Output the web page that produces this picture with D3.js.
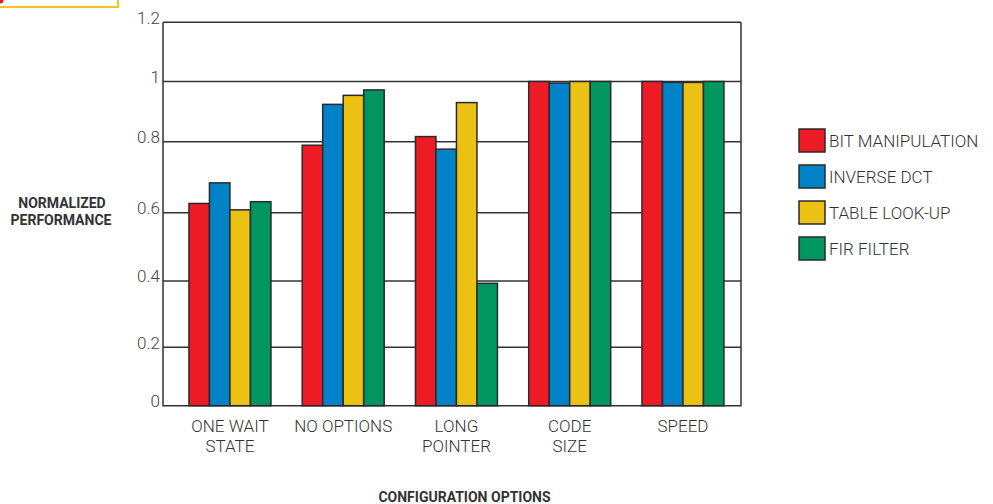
<!DOCTYPE html>
<html>
<head>
<meta charset="utf-8">
<script src="https://cdn.jsdelivr.net/npm/d3@7"></script>
<style>
  html, body { margin: 0; padding: 0; background: #fff; }
  svg { display: block; }
  text { font-family: "Roboto", "Liberation Sans", sans-serif; }
</style>
</head>
<body>
<svg id="chart" width="993" height="504"></svg>
<script>
// Configuration options along the x axis (each label may wrap onto two lines)
const categories = ["ONE WAIT STATE", "NO OPTIONS", "LONG POINTER", "CODE SIZE", "SPEED"];
const categoryLines = [["ONE WAIT", "STATE"], ["NO OPTIONS"], ["LONG", "POINTER"], ["CODE", "SIZE"], ["SPEED"]];

// Benchmarks, one bar per benchmark in each group
const seriesNames = ["BIT MANIPULATION", "INVERSE DCT", "TABLE LOOK-UP", "FIR FILTER"];
const seriesColors = ["#ED1C24", "#0082C8", "#EBC114", "#00965F"];

// Normalized performance, per series, in category order
const bitManipulation = [0.626, 0.79, 0.817, 1.0, 1.0];
const inverseDct      = [0.684, 0.924, 0.779, 0.995, 0.997];
const tableLookUp     = [0.608, 0.954, 0.93, 1.0, 0.997];
const firFilter       = [0.631, 0.972, 0.393, 1.0, 1.0];
const seriesValues = [bitManipulation, inverseDct, tableLookUp, firFilter];

// Y axis ticks
const yTicks = [0, 0.2, 0.4, 0.6, 0.8, 1, 1.2];
const yTickLabels = ["0", "0.2", "0.4", "0.6", "0.8", "1", "1.2"];

const svg = d3.select("#chart");
const ink = "#333";

const plot = { left: 163, right: 741 };

// The printed grid is not evenly spaced, so the scale is piecewise linear per tick
const y = d3.scaleLinear()
  .domain(yTicks)
  .range([405.7, 347.3, 281, 212.7, 141.7, 81.5, 22.3]);

const x0 = d3.scaleBand()
  .domain(categories)
  .range([173.1, 739.8])
  .paddingInner(0.276)
  .paddingOuter(0.14);

const x1 = d3.scaleBand()
  .domain(seriesNames)
  .range([0, x0.bandwidth()]);

// Corner tag
svg.append("rect")
  .attr("x", -10).attr("y", -10).attr("width", 128).attr("height", 17)
  .attr("fill", "none").attr("stroke", "#F7C31E").attr("stroke-width", 2);
svg.append("circle").attr("cx", 0).attr("cy", 0).attr("r", 3.5).attr("fill", "#ED1C24");

// Horizontal grid lines
svg.append("g")
  .selectAll("line")
  .data(yTicks.slice(1))
  .join("line")
  .attr("x1", plot.left).attr("x2", plot.right)
  .attr("y1", d => y(d)).attr("y2", d => y(d))
  .attr("stroke", ink).attr("stroke-width", 1.5);

// Frame: left, right and bottom sides
svg.append("path")
  .attr("d", `M${plot.left},${y(1.2)}V${y(0)}H${plot.right}V${y(1.2)}`)
  .attr("fill", "none").attr("stroke", ink).attr("stroke-width", 1.5);

// Bars
const groups = svg.append("g")
  .selectAll("g")
  .data(categories)
  .join("g")
  .attr("transform", c => `translate(${x0(c)},0)`);

groups.selectAll("rect")
  .data((c, ci) => seriesNames.map((s, si) => ({ s, si, v: seriesValues[si][ci] })))
  .join("rect")
  .attr("x", d => x1(d.s))
  .attr("width", x1.bandwidth())
  .attr("y", d => y(d.v))
  .attr("height", d => y(0) - y(d.v))
  .attr("fill", d => seriesColors[d.si])
  .attr("stroke", "#2a2a2a")
  .attr("stroke-width", 1.5);

// Y tick labels
const yAxis = d3.axisLeft(y).tickValues(yTicks)
  .tickFormat((d, i) => yTickLabels[i]).tickSize(0).tickPadding(0);
const gy = svg.append("g").attr("transform", `translate(${plot.left - 3},0)`).call(yAxis);
gy.select(".domain").remove();
gy.selectAll("text")
  .attr("dy", "0.05em")
  .attr("fill", "#444")
  .style("font-size", "17px")
  .style("font-weight", "300")
  .style("font-family", "Roboto, sans-serif");

// Category labels
const catLabels = svg.append("g")
  .selectAll("text")
  .data(categories)
  .join("text")
  .attr("x", c => x0(c) + x0.bandwidth() / 2)
  .attr("y", 432)
  .attr("text-anchor", "middle")
  .attr("fill", ink)
  .style("font-size", "17px")
  .style("font-weight", "300");
catLabels.selectAll("tspan")
  .data((c, i) => categoryLines[i])
  .join("tspan")
  .attr("x", function () { return this.parentNode.getAttribute("x"); })
  .attr("dy", (d, i) => i === 0 ? 0 : 19.5)
  .text(d => d);

// Axis titles
svg.append("text")
  .attr("x", 464.5).attr("y", 502)
  .attr("text-anchor", "middle")
  .attr("fill", ink)
  .style("font-size", "14px").style("font-weight", "bold")
  .text("CONFIGURATION OPTIONS");

const yTitle = svg.append("text")
  .attr("text-anchor", "middle")
  .attr("fill", ink)
  .style("font-size", "14px").style("font-weight", "bold");
yTitle.append("tspan").attr("x", 62).attr("y", 208).text("NORMALIZED");
yTitle.append("tspan").attr("x", 61).attr("y", 225).text("PERFORMANCE");

// Legend
const legend = svg.append("g")
  .selectAll("g")
  .data(seriesNames)
  .join("g")
  .attr("transform", (d, i) => `translate(799,${129 + i * 36})`);
legend.append("rect")
  .attr("width", 26).attr("height", 23)
  .attr("fill", (d, i) => seriesColors[i])
  .attr("stroke", "#2a2a2a").attr("stroke-width", 1.5);
legend.append("text")
  .attr("x", 30).attr("y", 18)
  .attr("fill", ink)
  .style("font-size", "17px")
  .style("font-weight", "300")
  .text(d => d);
</script>
</body>
</html>
